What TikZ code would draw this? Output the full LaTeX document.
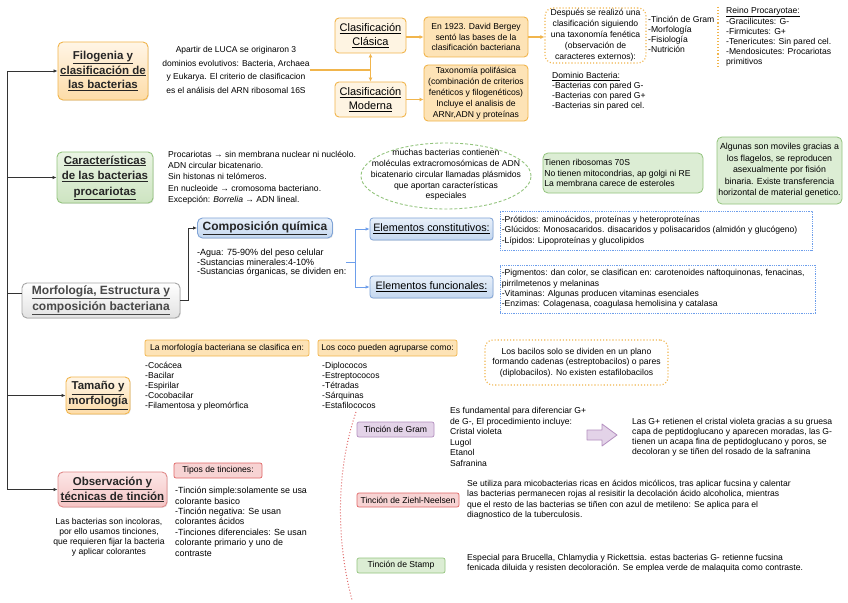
\documentclass[tikz,border=0pt]{standalone}
\usepackage{fontspec}
\setmainfont{Liberation Sans}
\usetikzlibrary{arrows.meta,shapes.geometric,shadows}
\definecolor{orD}{HTML}{F1B54C}
\definecolor{orT}{HTML}{FFF5E6}
\definecolor{orM}{HTML}{FDDCA8}
\definecolor{orL}{HTML}{FEF4E2}
\definecolor{orF}{HTML}{FDE3B6}
\definecolor{grD}{HTML}{93C47D}
\definecolor{grT}{HTML}{EAF4E4}
\definecolor{grM}{HTML}{CDE4C1}
\definecolor{grF}{HTML}{DCEDD4}
\definecolor{blD}{HTML}{7FA3D6}
\definecolor{blT}{HTML}{E8F0FA}
\definecolor{blM}{HTML}{C4D7EF}
\definecolor{blL}{HTML}{6D9EEB}
\definecolor{gyD}{HTML}{A6A6A6}
\definecolor{gyM}{HTML}{E2E2E2}
\definecolor{rdD}{HTML}{E08A8A}
\definecolor{rdT}{HTML}{FCE6E6}
\definecolor{rdM}{HTML}{F4C4C4}
\definecolor{rdF}{HTML}{F7D3D3}
\definecolor{rdA}{HTML}{E06666}
\definecolor{puD}{HTML}{B48FC0}
\definecolor{puF}{HTML}{E3D3E8}
\definecolor{lnD}{HTML}{333333}
\newcommand\fsz[2]{\fontsize{#1}{#2}\selectfont}
\begin{document}
\begin{tikzpicture}[x=1pt,y=-1pt,
  mainbox/.style={rounded corners=5pt, line width=0.9pt, align=center, inner sep=1pt,
    font=\fsz{11.5}{14.5}\bfseries, text=black!85,
    drop shadow={opacity=0.18, shadow xshift=0.8pt, shadow yshift=-0.9pt}},
  orbox/.style={mainbox, draw=orD, top color=orT, bottom color=orM},
  grbox/.style={mainbox, draw=grD, top color=grT, bottom color=grM},
  blbox/.style={mainbox, draw=blD, top color=blT, bottom color=blM},
  gybox/.style={mainbox, draw=gyD, top color=white, bottom color=gyM, text=black!72},
  rdbox/.style={mainbox, draw=rdD, top color=rdT, bottom color=rdM},
  subor/.style={rounded corners=4pt, line width=0.9pt, draw=orD, fill=orL, align=center, inner sep=1pt, font=\fsz{11}{13.5}},
  infoor/.style={rounded corners=4pt, line width=0.9pt, draw=orD, fill=orF, align=center, inner sep=0.5pt, font=\fsz{8.6}{10.5}},
  subbl/.style={rounded corners=3pt, line width=0.8pt, draw=blD, top color=blT, bottom color=blM, align=center, inner sep=1pt, font=\fsz{10.8}{12},
    drop shadow={opacity=0.15, shadow xshift=0.7pt, shadow yshift=-0.8pt}},
  infogr/.style={rounded corners=5pt, line width=0.8pt, draw=grD, fill=grF, inner sep=0.5pt, font=\fsz{8.6}{10.5}},
  ordot/.style={rounded corners=8pt, draw=orD, line width=1.1pt, dotted, align=center, inner sep=0.5pt, font=\fsz{8.6}{10.5}},
  bldot/.style={draw=blL, densely dotted, line width=0.8pt, inner sep=0pt},
  tag/.style={rounded corners=2pt, line width=0.7pt, inner sep=0.5pt, font=\fsz{8.6}{9}},
  txt/.style={inner sep=0pt, align=left, font=\fsz{8.6}{10.5}, text=black},
  spine/.style={draw=lnD, line width=0.9pt},
  sarr/.style={spine, -{Latex[length=4pt,width=3.5pt]}},
  ol/.style={draw=orD, line width=1.1pt},
  oarr/.style={ol, -{Latex[length=4pt,width=4pt]}},
  bline/.style={draw=blL, line width=0.8pt},
  barr/.style={bline, -{Latex[length=4pt,width=3.5pt]}},
]
\fill[white] (0,0) rectangle (848,602);
\useasboundingbox (0,0) rectangle (848,602);

% ---------- Filogenia ----------
\node[orbox, minimum width=90, minimum height=58] (filo) at (103,71) {\underline{Filogenia y}\\\underline{clasificación de}\\\underline{las bacterias}};
\node[txt, align=center, font=\fsz{8.5}{13.5}] (luca) at (236,70) {Apartir de LUCA se originaron 3\\dominios evolutivos: Bacteria, Archaea\\y Eukarya. El criterio de clasificacion\\es el análisis del ARN ribosomal 16S};
\node[subor, minimum width=71, minimum height=35] (clas) at (370.5,35.5) {\underline{Clasificación}\\\underline{Clásica}};
\node[subor, minimum width=71, minimum height=35] (mod) at (370.5,99.5) {\underline{Clasificación}\\\underline{Moderna}};
\node[infoor, minimum width=104, minimum height=40] (berg) at (476,37) {En 1923. David Bergey\\sentó las bases de la\\clasificación bacteriana};
\node[infoor, minimum width=104, minimum height=56, font=\fsz{8.6}{11}] (tax) at (476,93) {Taxonomía polifásica\\(combinación de criterios\\fenéticos y filogenéticos)\\Incluye el analisis de\\ARNr,ADN y proteínas};
\node[ordot, minimum width=101, minimum height=55, font=\fsz{8.6}{11}] (desp) at (595.5,35.5) {Después se realizó una\\clasificación siguiendo\\una taxonomía fenética\\(observación de\\caracteres externos):};
\node[txt, anchor=north west, font=\fsz{8.6}{10}] (tlist) at (648,16) {-Tinción de Gram\\-Morfología\\-Fisiología\\-Nutrición};
\node[txt, anchor=north west, font=\fsz{8.6}{10}] (reino) at (726,7) {\underline{Reino Procaryotae:}\\-Gracilicutes: G-\\-Firmicutes: G+\\-Tenericutes: Sin pared cel.\\-Mendosicutes: Procariotas\\primitivos};
\draw[ol, dotted] ([xshift=-8pt]reino.north west) -- ([xshift=-8pt]reino.south west);
\node[txt, anchor=north west, font=\fsz{8.6}{10}] (dom) at (552,72) {\underline{Dominio Bacteria:}\\-Bacterias con pared G-\\-Bacterias con pared G+\\-Bacterias sin pared cel.};

\draw[ol] (luca.east) -- (luca.east -| clas.south);
\draw[ol, {Latex[length=4pt,width=4pt]}-{Latex[length=4pt,width=4pt]}] (clas.south) -- (mod.north);
\draw[oarr] (clas.east |- berg.west) -- (berg.west);
\draw[oarr] (mod.east) -- (mod.east -| tax.west);
\draw[oarr] (berg.east) -- (berg.east -| desp.west);

% ---------- Caracteristicas ----------
\node[grbox, minimum width=96, minimum height=51, font=\fsz{11.5}{15.5}\bfseries] (car) at (105,177.5) {\underline{Características}\\\underline{de las bacterias}\\\underline{procariotas}};
\node[txt, anchor=north west, font=\fsz{8.6}{11.2}] (proc) at (168,151) {Procariotas → sin membrana nuclear ni nucléolo.\\ADN circular bicatenario.\\Sin histonas ni telómeros.\\En nucleoide → cromosoma bacteriano.\\Excepción: \textit{Borrelia} → ADN lineal.};
\node[ellipse, draw=grD, densely dashed, line width=0.9pt, minimum width=170, minimum height=66, inner sep=0pt] (ell) at (446,176) {};
\node[txt, align=center, font=\fsz{8.6}{10.8}] (elltxt) at (446,175) {muchas bacterias contienen\\moléculas extracromosómicas de ADN\\bicatenario circular llamadas plásmidos\\que aportan características\\especiales};
\node[infogr, minimum width=160, minimum height=40] (rib) at (623,173) {};
\node[txt, anchor=west, font=\fsz{8.6}{10.5}] (ribtxt) at ([xshift=1.5pt]rib.west) {Tienen ribosomas 70S\\No tienen mitocondrias, ap golgi ni RE\\La membrana carece de esteroles};
\node[infogr, minimum width=125, minimum height=67, align=center, font=\fsz{8.8}{11.6}, inner sep=0pt] (alg) at (779.5,170.5) {Algunas son moviles gracias a\\los flagelos, se reproducen\\asexualmente por fisión\\binaria. Existe transferencia\\horizontal de material genetico.};

% ---------- Morfologia / Composicion ----------
\node[gybox, minimum width=158, minimum height=35, font=\fsz{12}{16}\bfseries] (morf) at (101,300.5) {\underline{Morfología, Estructura y}\\\underline{composición bacteriana}};
\node[blbox, minimum width=135, minimum height=20, font=\fsz{12}{13}\bfseries] (comp) at (265,228) {\underline{Composición química}};
\node[txt, anchor=north west, font=\fsz{9}{9.5}] (ctxt) at (197,249) {-Agua: 75-90\% del peso celular\\-Sustancias minerales:4-10\%\\-Sustancias órganicas, se dividen en:};
\node[subbl, minimum width=123, minimum height=22] (econ) at (431.5,229) {\underline{Elementos constitutivos:}};
\node[subbl, minimum width=123, minimum height=22] (efun) at (431.5,287) {\underline{Elementos funcionales:}};
\node[bldot, minimum width=312, minimum height=39] (ecbox) at (656,230.5) {};
\node[txt, anchor=west] (ectxt) at ([xshift=2pt]ecbox.west) {-Prótidos: aminoácidos, proteínas y heteroproteínas\\-Glúcidos: Monosacaridos. disacaridos y polisacaridos (almidón y glucógeno)\\-Lípidos: Lipoproteínas y glucolipidos};
\node[bldot, minimum width=315, minimum height=48] (efbox) at (657.5,289) {};
\node[txt, anchor=west, font=\fsz{8.6}{10.3}] (eftxt) at ([xshift=2pt]efbox.west) {-Pigmentos: dan color, se clasifican en: carotenoides naftoquinonas, fenacinas,\\pirrilmetenos y melaninas\\-Vitaminas: Algunas producen vitaminas esenciales\\-Enzimas: Colagenasa, coagulasa hemolisina y catalasa};

\draw[sarr] (morf.east) -- ++(8,0) |- (comp.west);
\draw[bline] (ctxt.east) -- ++(9,0) coordinate (bj);
\draw[barr] (bj) |- (econ.west);
\draw[barr] (bj) |- (efun.west);

% ---------- Tamano ----------
\node[orbox, minimum width=64, minimum height=37, font=\fsz{11.5}{15}\bfseries] (tam) at (98,395.5) {\underline{Tamaño y}\\\underline{morfología}};
\node[tag, draw=orD, fill=orF, minimum width=164, minimum height=16] (lab1) at (227,348) {La morfología bacteriana se clasifica en:};
\node[txt, anchor=north west, font=\fsz{8.6}{10}] (l1) at (145,362) {-Cocácea\\-Bacilar\\-Espirilar\\-Cocobacilar\\-Filamentosa y pleomórfica};
\node[tag, draw=orD, fill=orF, minimum width=139, minimum height=16] (lab2) at (387.5,348) {Los coco pueden agruparse como:};
\node[txt, anchor=north west, font=\fsz{8.6}{10}] (l2) at (322,362) {-Diplococos\\-Estreptococos\\-Tétradas\\-Sárquinas\\-Estafilococos};
\node[ordot, minimum width=183, minimum height=45] (bac) at (576.5,362.5) {Los bacilos solo se dividen en un plano\\formando cadenas (estreptobacilos) o pares\\(diplobacilos). No existen estafilobacilos};

% ---------- Observacion ----------
\node[rdbox, minimum width=109, minimum height=35, font=\fsz{11.5}{15}\bfseries] (obs) at (112.5,489.5) {\underline{Observación y}\\\underline{técnicas de tinción}};
\node[txt, align=center, anchor=north, font=\fsz{8.6}{10}] (obst) at (109,518) {Las bacterias son incoloras,\\por ello usamos tinciones,\\que requieren fijar la bacteria\\y aplicar colorantes};
\node[tag, draw=rdA, fill=rdF, minimum width=88, minimum height=15] (tipos) at (218,470.5) {Tipos de tinciones:};
\node[txt, anchor=north west, font=\fsz{8.9}{10.4}] (tl) at (175,487) {-Tinción simple:solamente se usa\\colorante basico\\-Tinción negativa: Se usan\\colorantes ácidos\\-Tinciones diferenciales: Se usan\\colorante primario y uno de\\contraste};

% red dotted arc
\draw[rdA, dotted, line width=1pt] (356,412) .. controls (336,470) and (336,540) .. (352,600);

% Gram
\node[tag, draw=puD, fill=puF, minimum width=77, minimum height=15] (gram) at (395.5,429.5) {Tinción de Gram};
\node[txt, anchor=north west, font=\fsz{8.6}{10.6}] (gt) at (450,407) {Es fundamental para diferenciar G+\\de G-, El procedimiento incluye:\\Cristal violeta\\Lugol\\Etanol\\Safranina};
\draw[puD, fill=puF, line width=0.8pt, line join=round] (587,430) -- (602,430) -- (602,424) -- (617,435) -- (602,446) -- (602,440) -- (587,440) -- cycle;
\node[txt, anchor=north west, font=\fsz{8.6}{10}] (gr) at (632,418) {Las G+ retienen el cristal violeta gracias a su gruesa\\capa de peptidoglucano y aparecen moradas, las G-\\tienen un acapa fina de peptidoglucano y poros, se\\decoloran y se tiñen del rosado de la safranina};

% Ziehl
\node[tag, draw=rdA, fill=rdF, minimum width=102, minimum height=14] (ziehl) at (408,500) {Tinción de Ziehl-Neelsen};
\node[txt, anchor=north west, font=\fsz{8.6}{10.3}] (zt) at (467,480) {Se utiliza para micobacterias ricas en ácidos micólicos, tras aplicar fucsina y calentar\\las bacterias permanecen rojas al resisitir la decolación ácido alcoholica, mientras\\que el resto de las bacterias se tiñen con azul de metileno: Se aplica para el\\diagnostico de la tuberculosis.};

% Stamp
\node[tag, draw=grD, fill=grF, minimum width=88, minimum height=15] (stamp) at (401,565.5) {Tinción de Stamp};
\node[txt, anchor=north west, font=\fsz{8.6}{10.3}] (st) at (467,554) {Especial para Brucella, Chlamydia y Rickettsia. estas bacterias G- retienne fucsina\\fenicada diluida y resisten decoloración. Se emplea verde de malaquita como contraste.};

% ---------- spine ----------
\coordinate (sTop) at (7,71);
\coordinate (sBot) at (7,489.5);
\draw[spine] (sTop) -- (sBot);
\draw[sarr] (sTop) -- (filo.west);
\draw[sarr] (sTop |- car.west) -- (car.west);
\draw[spine] (sTop |- 0,293) -- (morf.west |- 0,293);
\draw[sarr] (sTop |- tam.west) -- (tam.west);
\draw[sarr] (sBot) -- (obs.west);
\end{tikzpicture}
\end{document}
